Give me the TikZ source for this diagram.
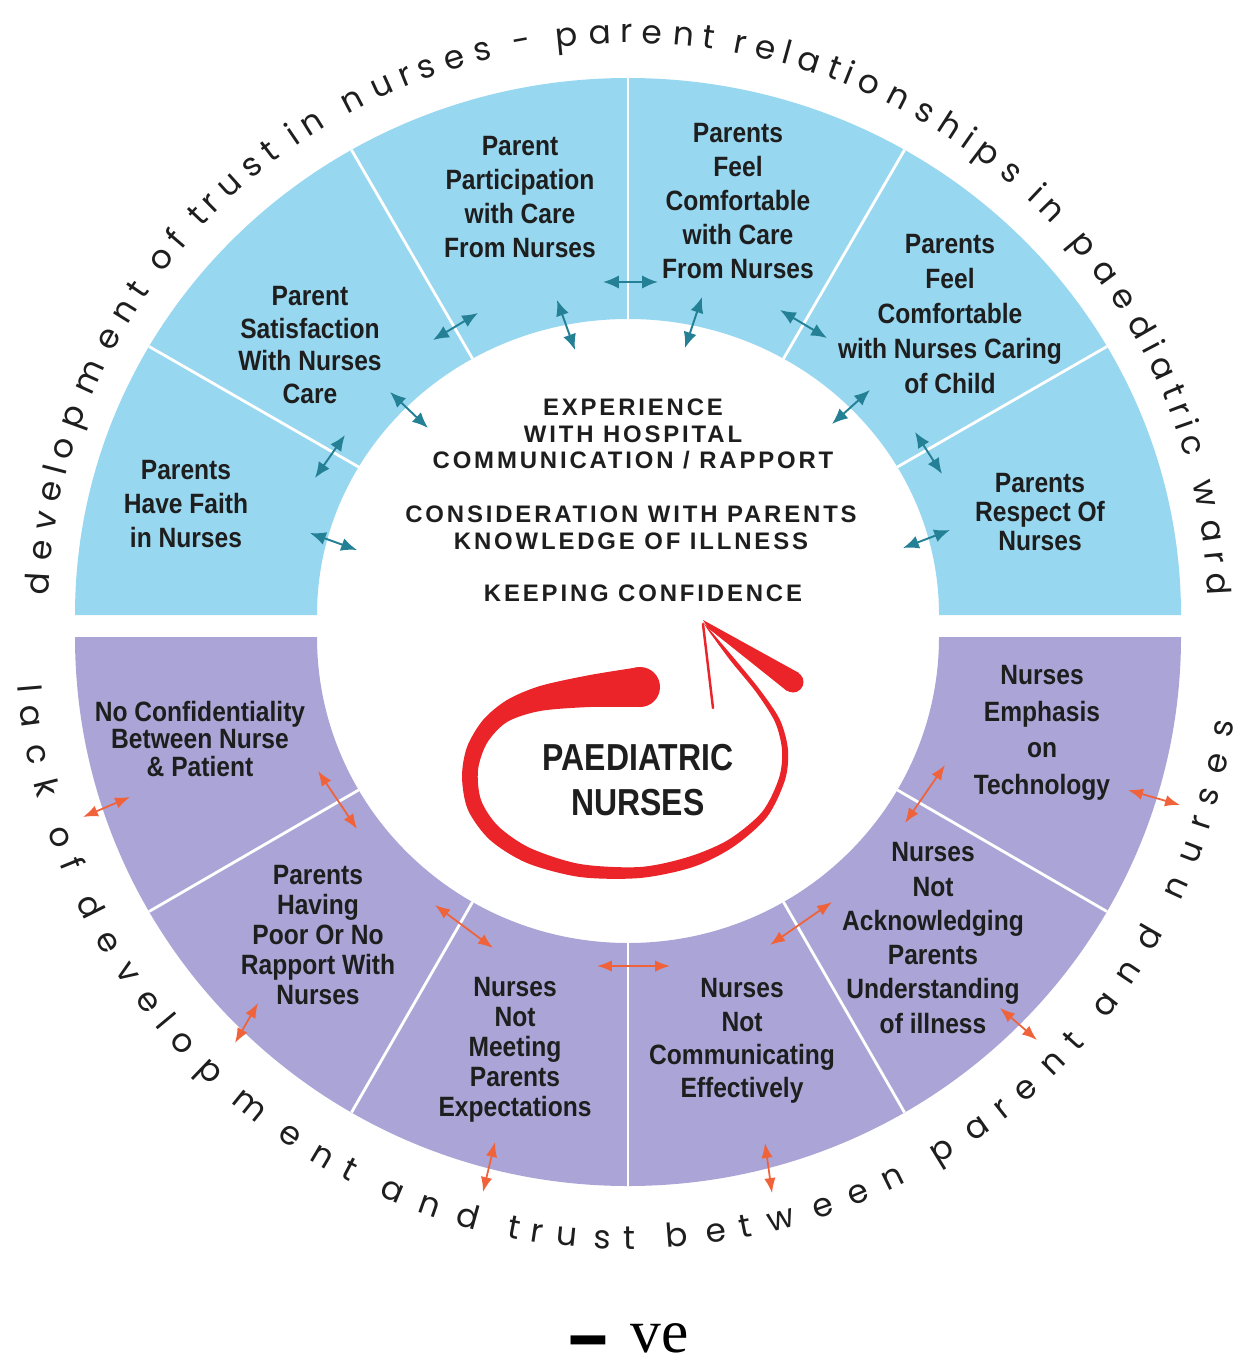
\documentclass[tikz,border=0pt]{standalone}
\usepackage{fontspec}
\setmainfont{Liberation Sans}
\newfontfamily\condfont[FakeStretch=0.88]{Liberation Sans}
\newfontfamily\titlefont[FakeStretch=0.85]{Liberation Sans}
\newfontfamily\capsfont[LetterSpace=12]{Liberation Sans}
\newfontfamily\arcfont{Poppins}
\newfontfamily\signfont{Liberation Serif}
\usetikzlibrary{arrows.meta,decorations.text}
\definecolor{skyband}{RGB}{152,215,240}
\definecolor{lilacband}{RGB}{170,165,214}
\definecolor{tealtip}{RGB}{36,128,148}
\definecolor{orangetip}{RGB}{240,98,58}
\definecolor{swirlred}{RGB}{234,36,40}
\definecolor{ink}{RGB}{30,30,30}
\tikzset{
  sect/.style={align=center, text=ink, font=\condfont\bfseries\fontsize{15.9}{#1}\selectfont},
  sect/.default=19.5,
  divider/.style={white, line width=1.6pt},
  tealarrow/.style={tealtip, line width=1.1pt, {Latex[length=9pt,width=7.5pt]}-{Latex[length=9pt,width=7.5pt]}},
  orangearrow/.style={orangetip, line width=1pt, {Latex[length=8.5pt,width=6.5pt]}-{Latex[length=8.5pt,width=6.5pt]}},
  capsline/.style={align=center, text=ink, font=\capsfont\bfseries\fontsize{13.6}{15.3}\selectfont},
  arctext/.style={decorate, decoration={text effects along path, text={#1},
    text effects/.cd, text along path, fit text to path,
    characters={text=ink, inner sep=0pt, font=\arcfont\fontsize{18.7}{20}\selectfont}}}
}

\begin{document}
\begin{tikzpicture}[x=0.02cm, y=0.02cm]
\useasboundingbox (0,0) rectangle (1244,-1361);
\coordinate (cu) at (628,-615);
\coordinate (cl) at (628,-637);
\fill[skyband] (cu) ++(180:553 and 537) arc[start angle=180, end angle=0, x radius=553, y radius=537]
  -- ++(-242,0) arc[start angle=0, end angle=180, x radius=311, y radius=296] -- cycle;
\fill[lilacband] (cl) ++(180:553 and 549) arc[start angle=180, end angle=360, x radius=553, y radius=549]
  -- ++(-242,0) arc[start angle=360, end angle=180, x radius=311, y radius=306] -- cycle;
\foreach \a in {30,60,...,150}
  \draw[divider] ([shift={(\a:311 and 296)}]cu) -- ([shift={(\a:553 and 537)}]cu);
\foreach \a in {210,240,...,330}
  \draw[divider] ([shift={(\a:311 and 306)}]cl) -- ([shift={(\a:553 and 549)}]cl);

\node[sect] (faith) at (186,-504) {Parents\\Have Faith\\in Nurses};
\node[sect=18.7] (satisfaction) at (310,-345) {Parent\\Satisfaction\\With Nurses\\Care};
\node[sect=19.3] (participation) at (520,-197) {Parent\\Participation\\with Care\\From Nurses};
\node[sect=19.3] (comfortcare) at (738,-201) {Parents\\Feel\\Comfortable\\with Care\\From Nurses};
\node[sect=19.8] (comfortchild) at (950,-314) {Parents\\Feel\\Comfortable\\with Nurses Caring\\of Child};
\node[sect=16.7] (respect) at (1040,-512) {Parents\\Respect Of\\Nurses};
\node[sect=15.6] (confidential) at (200,-739) {No Confidentiality\\Between Nurse\\\& Patient};
\node[sect=17] (rapport) at (318,-935) {Parents\\Having\\Poor Or No\\Rapport With\\Nurses};
\node[sect=17] (expect) at (515,-1050) {Nurses\\Not\\Meeting\\Parents\\Expectations};
\node[sect=18.9] (communicate) at (742,-1041) {Nurses\\Not\\Communicating\\Effectively};
\node[sect=19.5] (acknowledge) at (933,-938) {Nurses\\Not\\Acknowledging\\Parents\\Understanding\\of illness};
\node[sect=20.8] (technology) at (1042,-733) {Nurses\\Emphasis\\on\\Technology};

\node[capsline] (experience) at (633,-434) {EXPERIENCE\\WITH HOSPITAL\\COMMUNICATION / RAPPORT};
\node[capsline] (knowledge) at (631,-528) {CONSIDERATION WITH PARENTS\\KNOWLEDGE OF ILLNESS};
\node[capsline] (confidence) at (643,-593) {KEEPING CONFIDENCE};

\foreach \ax/\ay/\bx/\by [count=\i] in {310/533/357/550, 315/478/345/435, 390/392/428/428,
    433/340/478/313, 557/300/575/350, 603/282/658/282, 702/297/685/348, 780/310/827/338,
    832/424/870/390, 915/432/942/474, 903/548/950/530}{
  \coordinate (ta\i) at (\ax,-\ay);
  \coordinate (tb\i) at (\bx,-\by);
  \draw[tealarrow] (ta\i) -- (tb\i);
}
\foreach \ax/\ay/\bx/\by [count=\i] in {83/817/130/797, 318/771/357/829, 435/905/493/948,
    597/966/670/966, 770/945/832/902, 905/823/945/765, 1128/790/1180/805, 1000/1008/1037/1040,
    765/1143/772/1193, 495/1142/483/1192, 258/1003/235/1043}{
  \coordinate (oa\i) at (\ax,-\ay);
  \coordinate (ob\i) at (\bx,-\by);
  \draw[orangearrow] (oa\i) -- (ob\i);
}

\fill[swirlred] plot[smooth] coordinates {(640,-667) (590,-675) (540,-686) (507,-700) (483,-720)
    (467,-747) (462,-777) (468,-810) (490,-840) (527,-863) (580,-877) (640,-878) (693,-867)
    (733,-847) (767,-817) (785,-780) (788,-750) (780,-720) (760,-690) (733,-657) (703,-622)}
  -- plot[smooth] coordinates {(708,-630) (730,-660) (756,-692) (775,-722) (782,-750) (779,-778)
    (762,-812) (728,-840) (688,-857) (640,-867) (580,-864) (530,-848) (498,-826) (481,-800)
    (478,-770) (487,-743) (507,-722) (540,-711) (590,-707) (640,-707)} -- cycle;
\fill[swirlred] (640,-687) circle[radius=20];
\fill[swirlred] (703,-620) -- (799,-673) -- (787,-691) -- (708,-628) -- cycle;
\fill[swirlred] (793,-682) circle[radius=10.5];
\draw[swirlred, line width=1.4pt, line cap=round] (703,-624) -- (713,-708);

\node[align=center, text=ink, font=\titlefont\bfseries\fontsize{21.4}{25.5}\selectfont] (title) at (638,-780) {PAEDIATRIC\\NURSES};

\path[arctext={development of trust in nurses - parent relationships in paediatric ward}]
  (cu) ++(178:580 and 572) arc[start angle=178, end angle=2, x radius=580, y radius=572];
\path[arctext={lack of development and trust between parent and nurses}]
  (cl) ++(184.5:612) arc[start angle=184.5, end angle=352, radius=612];

\node[anchor=base, inner sep=0pt, font=\signfont\fontsize{35}{40}\selectfont] (sign) at (630,-1352)
  {\smash{\raisebox{-0.3em}{\scalebox{1.1}[2.1]{\textbf{–}}}}\hspace{0.4em}ve};
\end{tikzpicture}
\end{document}
